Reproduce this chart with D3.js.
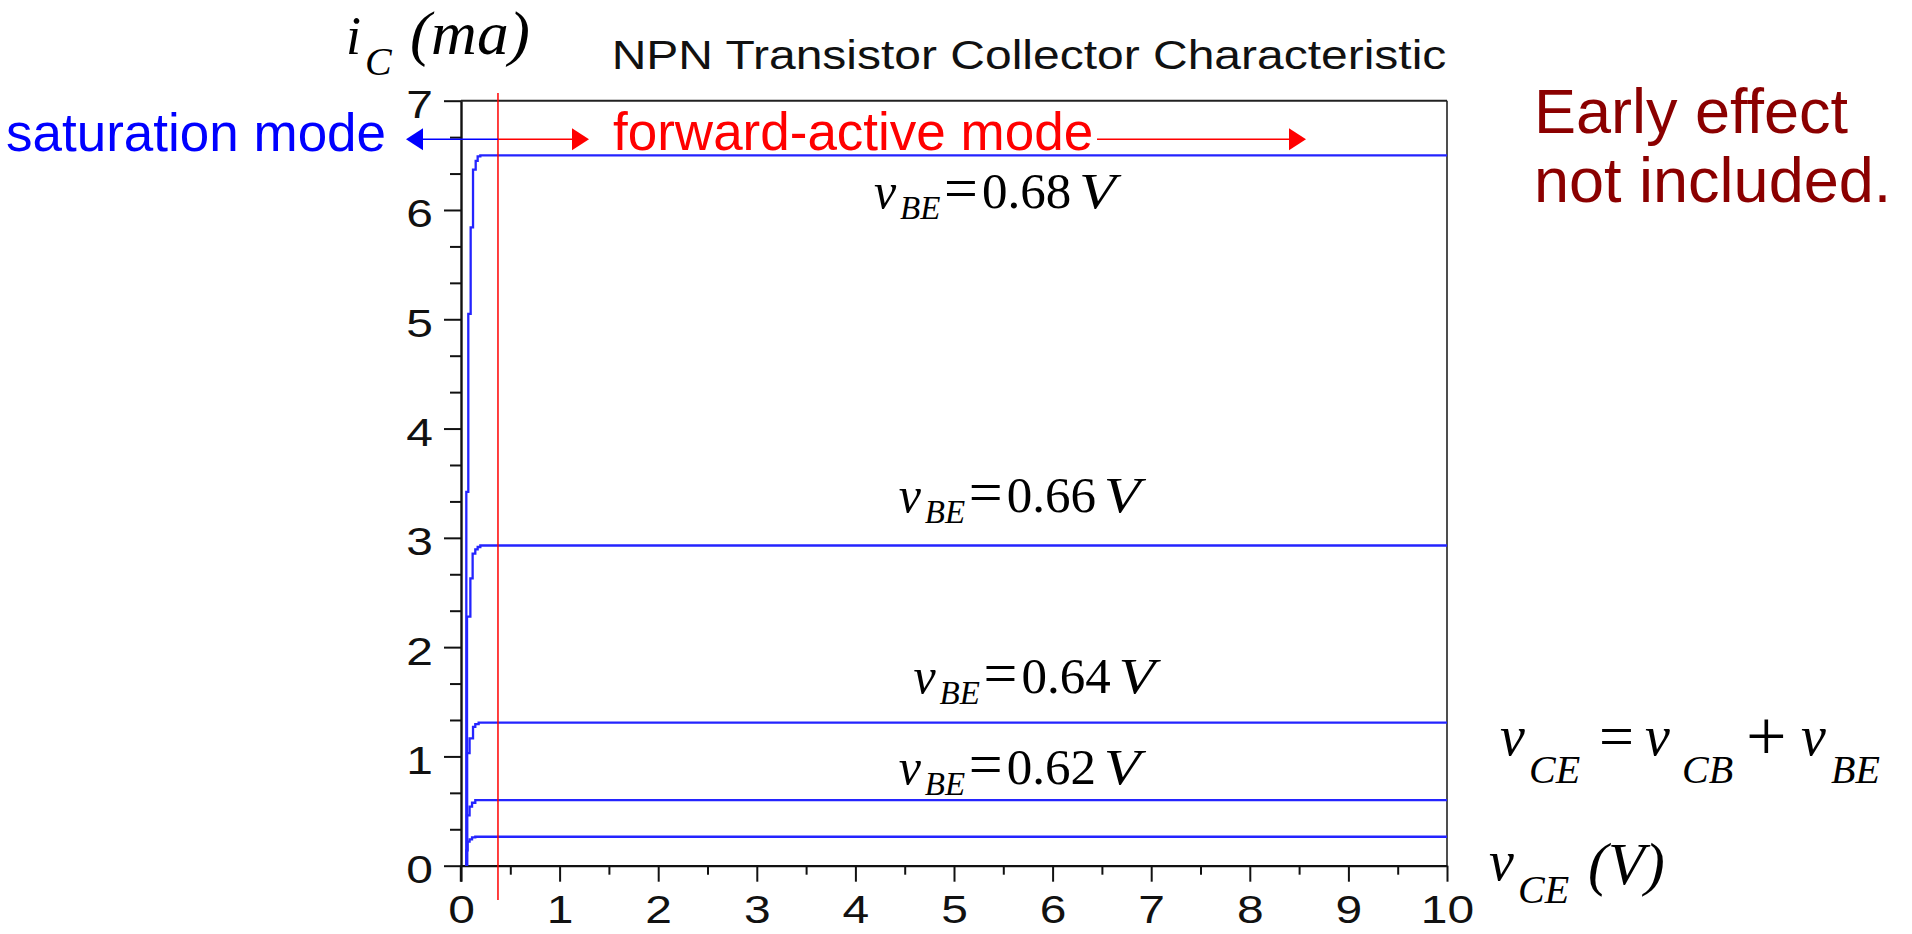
<!DOCTYPE html>
<html><head><meta charset="utf-8">
<script src="https://cdn.jsdelivr.net/npm/d3@7"></script>
<style>html,body{margin:0;padding:0;background:#fff;overflow:hidden}svg{display:block}</style>
</head><body>
<svg id="chart" width="1912" height="934"></svg>
<script>
// ---------- data ----------
const vceTicks = [0, 1, 2, 3, 4, 5, 6, 7, 8, 9, 10];
const vceMinorTicks = [0.5, 1.5, 2.5, 3.5, 4.5, 5.5, 6.5, 7.5, 8.5, 9.5];
const icTicks = [0, 1, 2, 3, 4, 5, 6, 7];
const icMinorTicks = [1/3, 2/3, 4/3, 5/3, 7/3, 8/3, 10/3, 11/3, 13/3, 14/3, 16/3, 17/3, 19/3, 20/3];

// collector curves: [vCE (V), iC (mA)] step vertices
const curve068 = [[0.054, 0], [0.074, 3.42], [0.098, 5.05], [0.122, 5.84], [0.149, 6.37], [0.169, 6.45], [0.196, 6.49], [10, 6.50]];
const curve066 = [[0.061, 0], [0.095, 2.28], [0.118, 2.63], [0.145, 2.855], [0.169, 2.895], [0.196, 2.916], [10, 2.93]];
const curve064 = [[0.061, 0], [0.087, 1.03], [0.122, 1.165], [0.145, 1.27], [0.179, 1.295], [10, 1.31]];
const curve062 = [[0.061, 0], [0.087, 0.46], [0.112, 0.54], [0.145, 0.576], [10, 0.60]];
const curve060 = [[0.054, 0], [0.067, 0.14], [0.087, 0.22], [0.112, 0.24], [0.145, 0.26], [10, 0.265]];
const curves = [curve068, curve066, curve064, curve062, curve060];

const vbeLabels = ["0.68", "0.66", "0.64", "0.62"];
const vbeLabelVce = [4.20, 4.45, 4.60, 4.45];
const vbeLabelIc = [6.02, 3.24, 1.58, 0.75];

const satBoundaryVce = 0.375;
const titleText = "NPN Transistor Collector Characteristic";

// ---------- drawing ----------
const svg = d3.select("#chart");
const x = d3.scaleLinear().domain([0, 10]).range([461, 1447]);
const y = d3.scaleLinear().domain([0, 7]).range([865.7, 100.7]);
const sans = "'Liberation Sans', Arial, Helvetica, sans-serif";
const serif = "'Liberation Serif', 'Times New Roman', serif";

// title
svg.append("text")
  .attr("transform", `translate(1029,69) scale(1.2,1)`)
  .attr("text-anchor", "middle")
  .attr("font-family", sans).attr("font-size", 40).attr("fill", "#111")
  .text(titleText);

// frame top & right
svg.append("line").attr("x1", x(0)).attr("x2", x(10)).attr("y1", y(7)).attr("y2", y(7))
  .attr("stroke", "#222").attr("stroke-width", 2);
svg.append("line").attr("x1", x(10)).attr("x2", x(10)).attr("y1", y(7)).attr("y2", y(0))
  .attr("stroke", "#222").attr("stroke-width", 1.6);

// minor ticks
svg.append("g").attr("transform", `translate(${x(0)},0)`)
  .call(d3.axisLeft(y).tickValues(icMinorTicks).tickSize(11).tickFormat(""))
  .call(g => g.select(".domain").remove())
  .selectAll("line").attr("stroke", "#111").attr("stroke-width", 2);
svg.append("g").attr("transform", `translate(0,${y(0)})`)
  .call(d3.axisBottom(x).tickValues(vceMinorTicks).tickSize(9).tickFormat(""))
  .call(g => g.select(".domain").remove())
  .selectAll("line").attr("stroke", "#111").attr("stroke-width", 2);

// major y axis
const TSX = 1.23;
const yAx = svg.append("g").attr("transform", `translate(${x(0)},0)`)
  .call(d3.axisLeft(y).tickValues(icTicks).tickSize(17).tickSizeOuter(0).tickFormat(d3.format("d")));
yAx.select(".domain").attr("stroke", "#111").attr("stroke-width", 2.4);
yAx.selectAll(".tick line").attr("stroke", "#111").attr("stroke-width", 2);
yAx.selectAll(".tick text")
  .attr("x", 0).attr("dy", null).attr("y", 0)
  .attr("transform", `translate(-28,17) scale(${TSX},1)`)
  .attr("text-anchor", "end")
  .attr("font-family", sans).attr("font-size", 39).attr("fill", "#111");

// major x axis
const xAx = svg.append("g").attr("transform", `translate(0,${y(0)})`)
  .call(d3.axisBottom(x).tickValues(vceTicks).tickSize(16).tickSizeOuter(0).tickFormat(d3.format("d")));
xAx.select(".domain").attr("stroke", "#111").attr("stroke-width", 2.2);
xAx.selectAll(".tick line").attr("stroke", "#111").attr("stroke-width", 2);
xAx.selectAll(".tick text")
  .attr("y", 0).attr("dy", null)
  .attr("transform", `translate(0,57) scale(${TSX},1)`)
  .attr("text-anchor", "middle")
  .attr("font-family", sans).attr("font-size", 39).attr("fill", "#111");
svg.append("line").attr("x1", x(0)).attr("x2", x(0)).attr("y1", y(0)).attr("y2", y(0) + 16)
  .attr("stroke", "#111").attr("stroke-width", 2.4);

// curves
const line = d3.line().x(d => x(d[0])).y(d => y(d[1])).curve(d3.curveStepBefore);
svg.append("g").selectAll("path").data(curves).join("path")
  .attr("d", line).attr("fill", "none")
  .attr("stroke", "#2424ff").attr("stroke-width", 2.3);

// saturation boundary (red vertical)
svg.append("line").attr("x1", x(satBoundaryVce)).attr("x2", x(satBoundaryVce))
  .attr("y1", 93).attr("y2", 900).attr("stroke", "#ff0000").attr("stroke-width", 1.5);

// arrows
const arrowY = 139.3;
svg.append("line").attr("x1", 420).attr("x2", x(satBoundaryVce)).attr("y1", arrowY).attr("y2", arrowY)
  .attr("stroke", "#0000ff").attr("stroke-width", 1.5);
svg.append("polygon").attr("points", `406,${arrowY} 423,${arrowY - 11} 423,${arrowY + 11}`).attr("fill", "#0000ff");
svg.append("line").attr("x1", x(satBoundaryVce)).attr("x2", 575).attr("y1", arrowY).attr("y2", arrowY)
  .attr("stroke", "#ff0000").attr("stroke-width", 1.5);
svg.append("polygon").attr("points", `589,${arrowY} 572,${arrowY - 11} 572,${arrowY + 11}`).attr("fill", "#ff0000");
svg.append("line").attr("x1", 1097).attr("x2", 1292).attr("y1", arrowY).attr("y2", arrowY)
  .attr("stroke", "#ff0000").attr("stroke-width", 1.5);
svg.append("polygon").attr("points", `1306,${arrowY} 1289,${arrowY - 11} 1289,${arrowY + 11}`).attr("fill", "#ff0000");

// mode labels
svg.append("text").attr("x", 6).attr("y", 151)
  .attr("font-family", sans).attr("font-size", 53).attr("fill", "#0000ff").text("saturation mode");
svg.append("text").attr("x", 613).attr("y", 150)
  .attr("font-family", sans).attr("font-size", 53).attr("fill", "#ff0000").text("forward-active mode");

// Early effect note
const early = svg.append("text").attr("font-family", sans).attr("font-size", 63).attr("fill", "#8b0000");
early.append("tspan").attr("x", 1534).attr("y", 133).text("Early effect");
early.append("tspan").attr("x", 1534).attr("y", 202).text("not included.");

// y-axis label  i_C (ma)
const yl = svg.append("g").attr("font-family", serif).attr("font-style", "italic").attr("fill", "#000");
yl.append("text").attr("x", 346).attr("y", 54).attr("font-size", 54).text("i");
yl.append("text").attr("x", 365).attr("y", 75).attr("font-size", 40).text("C");
yl.append("text").attr("transform", "translate(410,54) scale(1.04,1)").attr("font-size", 61).text("(ma)");

// vBE labels
vbeLabels.forEach((v, i) => {
  const sx = x(vbeLabelVce[i]), sy = y(vbeLabelIc[i]);
  const g = svg.append("g").attr("font-family", serif).attr("fill", "#000");
  g.append("text").attr("x", sx - 1).attr("y", sy).attr("font-size", 50).attr("font-style", "italic").text("v");
  g.append("text").attr("x", sx + 25).attr("y", sy + 11).attr("font-size", 33).attr("font-style", "italic").text("BE");
  g.append("text").attr("x", sx + 69).attr("y", sy).attr("font-size", 60).text("=");
  g.append("text").attr("x", sx + 107).attr("y", sy).attr("font-size", 51).text(v);
  g.append("text").attr("transform", `translate(${sx + 204},${sy}) scale(1.2,1)`).attr("font-size", 50).attr("font-style", "italic").text("V");
});

// equation  v_CE = v_CB + v_BE
const eq = svg.append("g").attr("font-family", serif).attr("fill", "#000");
eq.append("text").attr("x", 1500).attr("y", 755).attr("font-size", 56).attr("font-style", "italic").text("v");
eq.append("text").attr("x", 1529).attr("y", 783).attr("font-size", 40).attr("font-style", "italic").text("CE");
eq.append("text").attr("x", 1599).attr("y", 757).attr("font-size", 62).text("=");
eq.append("text").attr("x", 1645).attr("y", 755).attr("font-size", 56).attr("font-style", "italic").text("v");
eq.append("text").attr("x", 1682).attr("y", 783).attr("font-size", 40).attr("font-style", "italic").text("CB");
eq.append("text").attr("x", 1746).attr("y", 760).attr("font-size", 72).text("+");
eq.append("text").attr("x", 1801).attr("y", 755).attr("font-size", 56).attr("font-style", "italic").text("v");
eq.append("text").attr("x", 1831).attr("y", 783).attr("font-size", 40).attr("font-style", "italic").text("BE");

// x-axis label v_CE (V)
const xl = svg.append("g").attr("font-family", serif).attr("font-style", "italic").attr("fill", "#000");
xl.append("text").attr("x", 1489).attr("y", 880).attr("font-size", 56).text("v");
xl.append("text").attr("x", 1518).attr("y", 903).attr("font-size", 40).text("CE");
xl.append("text").attr("x", 1588).attr("y", 884).attr("font-size", 60).text("(V)");
</script>
</body></html>
